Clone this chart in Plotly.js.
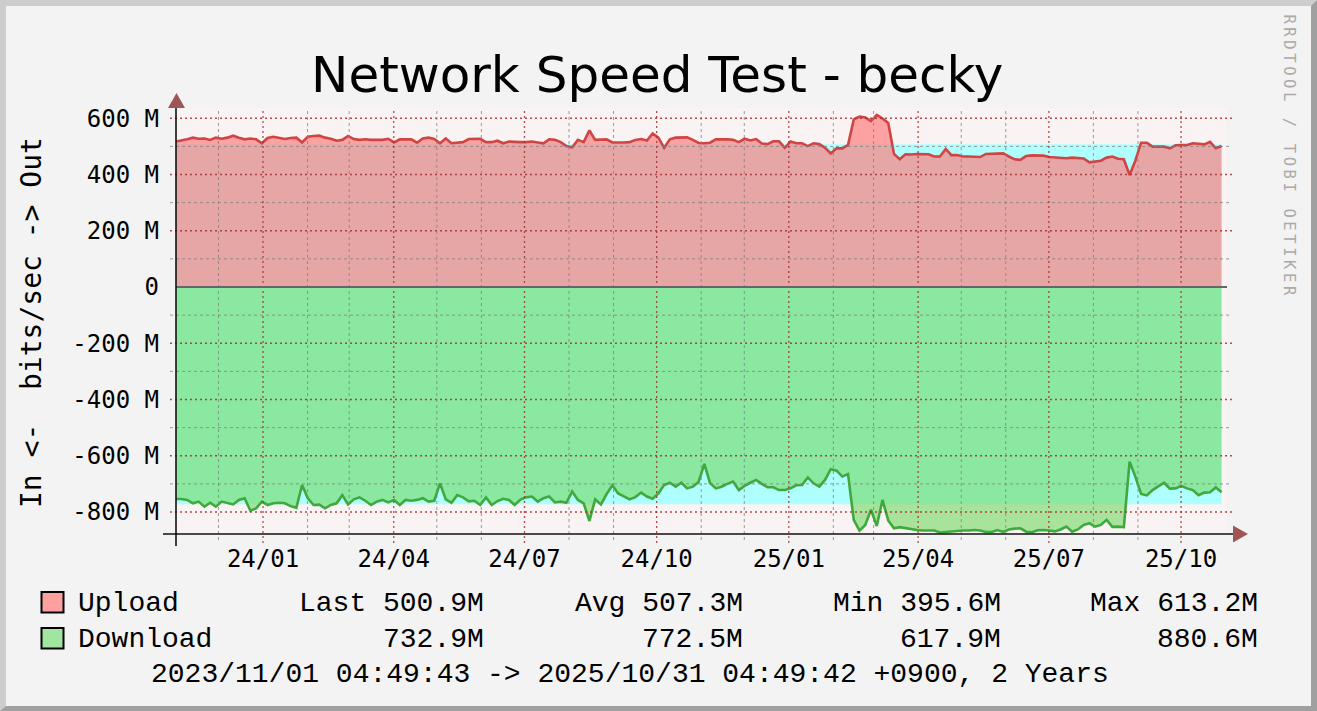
<!DOCTYPE html>
<html>
<head>
<meta charset="utf-8">
<script src="https://cdn.plot.ly/plotly-3.0.1.min.js"></script>
<style>
  html, body { margin:0; padding:0; background:#f3f3f3; }
  #wrap { position:relative; width:1317px; height:711px; }
  #chart { position:absolute; left:0; top:0; width:1317px; height:711px; }
  #frame { position:absolute; left:0; top:0; width:1317px; height:711px; box-sizing:border-box;
           border-top:6px solid #cdcdcd; border-left:6px solid #cdcdcd;
           border-right:6px solid #a0a0a0; border-bottom:5px solid #a0a0a0; pointer-events:none; }
</style>
</head>
<body>
<div id="wrap"><div id="chart"></div><div id="frame"></div></div>
<script>
// ---------------- data (values in M bits/sec), one sample every 4 days ----------------
const startDate = Date.UTC(2023, 10, 1, 4, 49, 43);
const stepDays = 4;

const upload = [
  517,520,525,531,527,528,523,531,527,531,
  538,531,525,528,525,511,530,534,530,526,
  530,531,514,534,537,538,531,527,520,523,
  537,526,523,525,523,523,523,527,514,525,
  526,525,513,528,531,526,511,528,511,514,
  515,526,527,527,515,515,520,511,517,515,
  515,515,
  517,514,511,525,523,515,501,497,523,515,
  557,523,525,525,514,513,514,515,523,526,
  521,546,531,495,525,531,531,532,523,512,
  511,513,525,526,525,523,515,527,521,526,
  510,508,518,518,495,517,511,511,501,511,
  508,495,475,493,493,505,596,606,603,590,
  612,599,583,473,454,472,471,473,473,472,
  464,464,491,469,469,464,464,463,462,473,
  473,475,475,464,454,452,466,468,467,467,
  462,460,460,458,460,458,457,443,445,449,
  460,464,456,454,398,449,513,513,499,499,
  499,493,504,505,505,511,508,507,516,493,
  501
];

const download = [
  -754,-754,-757,-769,-763,-781,-767,-781,-763,-769,
  -773,-757,-751,-795,-787,-763,-775,-769,-767,-769,
  -779,-785,-704,-751,-775,-774,-787,-775,-769,-740,
  -773,-755,-748,-760,-775,-763,-757,-766,-757,-775,
  -757,-760,-757,-751,-763,-760,-698,-755,-767,-740,
  -748,-762,-760,-775,-748,-775,-761,-753,-757,-775,
  -756,-748,
  -745,-763,-751,-745,-766,-763,-767,-727,-757,-769,
  -832,-755,-773,-736,-705,-734,-745,-755,-747,-731,
  -745,-753,-734,-704,-696,-710,-696,-716,-710,-693,
  -629,-698,-716,-710,-700,-692,-722,-707,-696,-686,
  -700,-712,-712,-722,-722,-716,-705,-704,-677,-698,
  -710,-686,-648,-653,-674,-665,-828,-866,-846,-792,
  -850,-757,-830,-858,-854,-858,-862,-864,-866,-866,
  -866,-873,-871,-870,-869,-866,-866,-864,-866,-871,
  -871,-864,-871,-862,-859,-858,-870,-872,-865,-864,
  -866,-869,-862,-852,-870,-862,-846,-840,-852,-846,
  -828,-853,-852,-854,-621,-674,-736,-741,-722,-710,
  -696,-717,-716,-707,-716,-722,-740,-731,-730,-713,
  -730
];

const avgUpload = 507.3;
const avgDownload = -772.5;

const xTickVals = ['2024-01-01','2024-04-01','2024-07-01','2024-10-01','2025-01-01','2025-04-01','2025-07-01','2025-10-01'];
const xTickText = ['24/01','24/04','24/07','24/10','25/01','25/04','25/07','25/10'];
const xMinorVals = ['2023-12-01','2024-02-01','2024-03-01','2024-05-01','2024-06-01','2024-08-01','2024-09-01',
                    '2024-11-01','2024-12-01','2025-02-01','2025-03-01','2025-05-01','2025-06-01','2025-08-01','2025-09-01'];
const yTickVals = [600,400,200,0,-200,-400,-600,-800];
const yTickText = ['600 M','400 M','200 M','0','-200 M','-400 M','-600 M','-800 M'];
const yMinorVals = [500,300,100,-100,-300,-500,-700];

const statLabels = ['Last','Avg','Min','Max'];
const uploadStats = ['500.9M','507.3M','395.6M','613.2M'];
const downloadStats = ['732.9M','772.5M','617.9M','880.6M'];
const seriesNames = ['Upload','Download'];
const timeRangeText = '2023/11/01 04:49:43 -> 2025/10/31 04:49:42 +0900, 2 Years';

// ---------------- geometry helpers ----------------
const L = 176, R = 1227, T = 108, B = 534;
const px = X => (X - L) / (R - L);
const py = Y => (B - Y) / (B - T);

const dates = upload.map((_, i) =>
  new Date(startDate + i * stepDays * 86400000).toISOString().slice(0, 19).replace('T', ' '));
const edgeX = [dates[0], dates[dates.length - 1]];

const traces = [
  { x: edgeX, y: [avgUpload, avgUpload], type: 'scatter', mode: 'lines', fill: 'tozeroy',
    fillcolor: '#b0ffff', line: { width: 0, color: '#b0ffff' } },
  { x: edgeX, y: [avgDownload, avgDownload], type: 'scatter', mode: 'lines', fill: 'tozeroy',
    fillcolor: '#b0ffff', line: { width: 0, color: '#b0ffff' } },
  { x: dates, y: upload, type: 'scatter', mode: 'lines', fill: 'tozeroy', name: seriesNames[0],
    fillcolor: 'rgba(255,124,124,0.68)', line: { width: 2.6, color: '#d04444' } },
  { x: dates, y: download, type: 'scatter', mode: 'lines', fill: 'tozeroy', name: seriesNames[1],
    fillcolor: 'rgba(114,217,97,0.6)', line: { width: 2.6, color: '#3eaa3e' } }
];

const shapes = [];
const majorCol = 'rgba(165,45,45,0.85)';
const minorCol = 'rgba(130,130,130,0.8)';
yMinorVals.forEach(v => shapes.push({ type:'line', xref:'paper', yref:'y', x0:px(170), x1:px(1232), y0:v, y1:v,
  line:{ color:minorCol, width:1, dash:'3px,3px' }, layer:'above' }));
yTickVals.filter(v => v !== 0).forEach(v => shapes.push({ type:'line', xref:'paper', yref:'y', x0:px(170), x1:px(1232), y0:v, y1:v,
  line:{ color:majorCol, width:1.3, dash:'2px,3px' }, layer:'above' }));
xMinorVals.forEach(d => shapes.push({ type:'line', xref:'x', yref:'paper', x0:d, x1:d, y0:py(540), y1:1,
  line:{ color:minorCol, width:1, dash:'3px,3px' }, layer:'above' }));
xTickVals.forEach(d => shapes.push({ type:'line', xref:'x', yref:'paper', x0:d, x1:d, y0:py(543), y1:1,
  line:{ color:majorCol, width:1.3, dash:'2px,3px' }, layer:'above' }));
// zero line
shapes.push({ type:'line', xref:'paper', yref:'y', x0:0, x1:1, y0:0, y1:0, line:{ color:'#666', width:2 }, layer:'above' });
// axis lines
shapes.push({ type:'line', xref:'paper', yref:'paper', x0:px(163), x1:px(1234), y0:0, y1:0, line:{ color:'#111', width:1.6 }, layer:'above' });
shapes.push({ type:'line', xref:'paper', yref:'paper', x0:0, x1:0, y0:py(546), y1:py(106), line:{ color:'#111', width:1.6 }, layer:'above' });
// arrows
shapes.push({ type:'path', xref:'paper', yref:'paper', layer:'above',
  path:`M ${px(168)} ${py(108)} L ${px(176.5)} ${py(93)} L ${px(185)} ${py(108)} Z`,
  fillcolor:'#a05555', line:{ width:0 } });
shapes.push({ type:'path', xref:'paper', yref:'paper', layer:'above',
  path:`M ${px(1233)} ${py(525.5)} L ${px(1248)} ${py(534)} L ${px(1233)} ${py(542.5)} Z`,
  fillcolor:'#a05555', line:{ width:0 } });
// legend boxes
shapes.push({ type:'rect', xref:'paper', yref:'paper', x0:px(41.5), x1:px(63.5), y0:py(612.5), y1:py(592),
  fillcolor:'#ffa0a0', line:{ color:'#000', width:2 } });
shapes.push({ type:'rect', xref:'paper', yref:'paper', x0:px(41.5), x1:px(63.5), y0:py(648.5), y1:py(628),
  fillcolor:'#a0e6a0', line:{ color:'#000', width:2 } });

const legFont = { family:'Liberation Mono, monospace', size:28, color:'#000' };
const monoFont = 'DejaVu Sans Mono, monospace';
const statRight = [486, 745, 1003, 1260];
const ann = [];
ann.push({ text:'Network Speed Test - becky', xref:'paper', yref:'paper', x:px(656.5), y:py(75),
  xanchor:'center', yanchor:'middle', showarrow:false, font:{ family:'DejaVu Sans, sans-serif', size:50, color:'#000' } });
ann.push({ text:'In <-  bits/sec -> Out', xref:'paper', yref:'paper', x:px(31), y:py(323), textangle:-90,
  xanchor:'center', yanchor:'middle', showarrow:false, font:{ family:monoFont, size:28, color:'#000' } });
ann.push({ text:'RRDTOOL / TOBI OETIKER', xref:'paper', yref:'paper', x:px(1289.5), y:py(156.5), textangle:90,
  xanchor:'center', yanchor:'middle', showarrow:false, font:{ family:monoFont, size:15.5, color:'#aaaaaa' } });
ann.push({ text:seriesNames[0], xref:'paper', yref:'paper', x:px(76), y:py(603), xanchor:'left', yanchor:'middle', showarrow:false, font:legFont });
ann.push({ text:seriesNames[1], xref:'paper', yref:'paper', x:px(76), y:py(639.5), xanchor:'left', yanchor:'middle', showarrow:false, font:legFont });
statLabels.forEach((lab, k) => {
  ann.push({ text:lab + ' ' + uploadStats[k], xref:'paper', yref:'paper', x:px(statRight[k]), y:py(603),
    xanchor:'right', yanchor:'middle', showarrow:false, font:legFont });
  ann.push({ text:downloadStats[k], xref:'paper', yref:'paper', x:px(statRight[k]), y:py(639.5),
    xanchor:'right', yanchor:'middle', showarrow:false, font:legFont });
});
ann.push({ text:timeRangeText, xref:'paper', yref:'paper', x:px(630), y:py(674), xanchor:'center', yanchor:'middle', showarrow:false, font:legFont });

const layout = {
  width:1317, height:711,
  margin:{ l:L, r:1317-R, t:T, b:711-B, pad:0 },
  paper_bgcolor:'#f3f3f3', plot_bgcolor:'#f9f3f3',
  showlegend:false, hovermode:false,
  xaxis:{ type:'date', range:['2023-11-01 10:30:00','2025-11-02 00:00:00'], tickvals:xTickVals, ticktext:xTickText,
    showgrid:false, zeroline:false, showline:false, ticks:'', ticklabelstandoff:8,
    tickfont:{ family:monoFont, size:24, color:'#000' } },
  yaxis:{ range:[-878.2, 636.4], tickvals:yTickVals, ticktext:yTickText,
    showgrid:false, zeroline:false, showline:false, ticks:'', ticklabelstandoff:16,
    tickfont:{ family:monoFont, size:24, color:'#000' } },
  shapes:shapes, annotations:ann
};

Plotly.newPlot('chart', traces, layout, { staticPlot:true, displayModeBar:false }).then(() => {
  document.querySelectorAll('#chart .annotation-text').forEach(t => {
    if (t.textContent === 'RRDTOOL / TOBI OETIKER') t.style.letterSpacing = '3.6px';
  });
});
</script>
</body>
</html>
